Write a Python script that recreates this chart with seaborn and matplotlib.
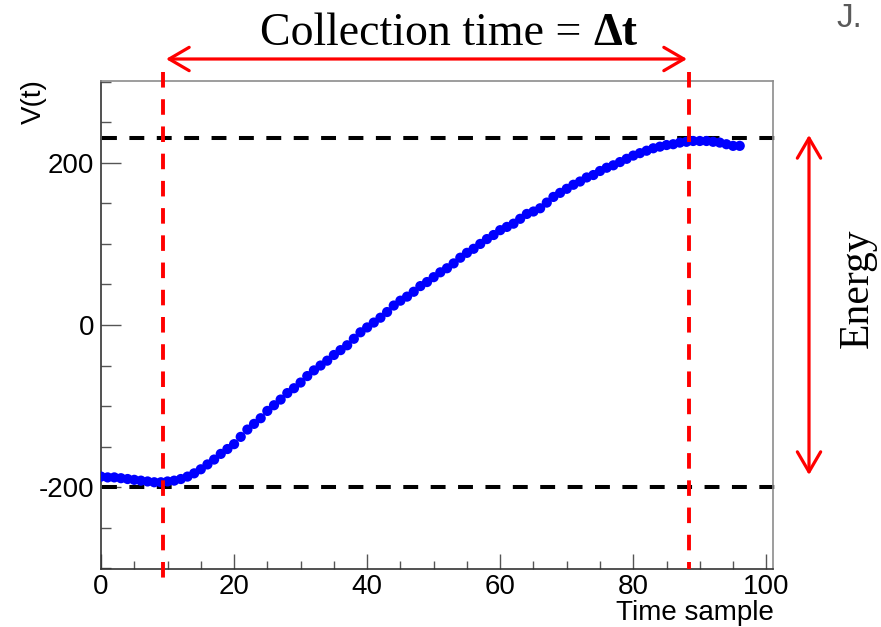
import numpy as np
import pandas as pd
import matplotlib
matplotlib.use("Agg")
import matplotlib.pyplot as plt
import seaborn as sns

# ---------------- data ----------------
time_sample = list(range(0, 97))
voltage = [
    -187, -188, -188, -189, -190, -191, -192, -193, -194, -194,
    -193, -192, -190, -187, -183, -178, -172, -166, -159, -153,
    -147, -138, -129, -122, -115, -106, -99, -92, -84, -78,
    -71, -63, -56, -50, -44, -37, -31, -25, -17, -9,
    -3, 3, 9, 16, 24, 30, 35, 41, 48, 53,
    59, 65, 70, 76, 83, 89, 94, 100, 106, 111,
    117, 121, 125, 131, 137, 140, 144, 151, 158, 163,
    168, 173, 177, 182, 185, 190, 194, 197, 201, 205,
    209, 212, 215, 218, 220, 222, 223, 225, 226, 227,
    227, 227, 226, 225, 223, 221, 221,
]
x_ticks = [0, 20, 40, 60, 80, 100]
y_ticks = [-200, 0, 200]
level_high = 231
level_low = -200
t_start = 9.3
t_end = 88.3
title_text = "Collection time ="
title_bold = "\u0394t"
energy_text = "Energy"
x_label = "Time sample"
y_label = "V(t)"
corner_text = "J."

df = pd.DataFrame({"t": time_sample, "v": voltage})

# ---------------- style ----------------
sns.set_style("white")
plt.rcParams["font.family"] = ["Liberation Sans", "DejaVu Sans"]
plt.rcParams["text.color"] = "black"
plt.rcParams["xtick.labelcolor"] = "black"
plt.rcParams["ytick.labelcolor"] = "black"

W, H = 881, 627
fig = plt.figure(figsize=(W / 100, H / 100), dpi=100)
ax = fig.add_axes([101 / W, 58 / H, 672 / W, 488 / H])

sns.scatterplot(data=df, x="t", y="v", ax=ax, color="#0000ff", s=54,
                edgecolor="none", linewidth=0, zorder=3, legend=False)

ax.set_xlim(0, 101)
ax.set_ylim(-301, 301)
ax.set_xticks(x_ticks)
ax.set_xticks(np.arange(0, 101, 5), minor=True)
ax.set_yticks(y_ticks)
ax.set_yticks(np.arange(-300, 301, 50), minor=True)
ax.set_xticklabels([str(v) for v in x_ticks])
ax.set_yticklabels([str(v) for v in y_ticks])
ax.set_xlabel("")
ax.set_ylabel("")

ax.tick_params(axis="x", which="major", direction="in", length=10.8, width=1.0,
               color="#555555", labelsize=20, pad=3.5, bottom=True, top=False,
               labelcolor="black")
ax.tick_params(axis="x", which="minor", direction="in", length=5.5, width=1.0,
               color="#555555", bottom=True, top=False)
ax.tick_params(axis="y", which="major", direction="in", length=14.4, width=1.0,
               color="#555555", labelsize=20, pad=5, left=True, right=False,
               labelcolor="black")
ax.tick_params(axis="y", which="minor", direction="in", length=7.5, width=1.0,
               color="#555555", left=True, right=False)

for side in ["left", "bottom"]:
    ax.spines[side].set_color("#333333")
    ax.spines[side].set_linewidth(1.2)
for side in ["top", "right"]:
    ax.spines[side].set_color("#8c8c8c")
    ax.spines[side].set_linewidth(1.2)

# ---------------- dashed guide lines ----------------
dash_black = (0, (3.7, 3.1))
ax.plot([0.2, 102.2], [level_high, level_high], color="black", lw=2.9,
        linestyle=dash_black, clip_on=False, zorder=2)
ax.plot([0.2, 102.5], [level_low, level_low], color="black", lw=2.9,
        linestyle=dash_black, clip_on=False, zorder=2)

dash_red = (0, (4.0, 3.0))
ax.plot([t_start, t_start], [312, -317], color="red", lw=2.8,
        linestyle=dash_red, clip_on=False, zorder=4)
ax.plot([t_end, t_end], [312, -301], color="red", lw=2.8,
        linestyle=dash_red, clip_on=False, zorder=4)

# ---------------- arrows (figure pixel coordinates) ----------------
def fp(x, y):
    return (x, H - y)

arrow_kw = dict(arrowstyle="<->,head_length=0.72,head_width=0.42",
                color="red", lw=2.3, mutation_scale=20, shrinkA=0, shrinkB=0)
ax.annotate("", xy=fp(166, 59), xytext=fp(687, 59), xycoords="figure pixels",
            textcoords="figure pixels", arrowprops=arrow_kw, annotation_clip=False)
ax.annotate("", xy=fp(809, 135), xytext=fp(809, 475), xycoords="figure pixels",
            textcoords="figure pixels", arrowprops=arrow_kw, annotation_clip=False)

# ---------------- texts ----------------
serif = ["Liberation Serif", "DejaVu Serif"]
fig.text(581 / W, 1 - 45 / H, title_text, family=serif, fontsize=33,
         color="black", ha="right", va="baseline")
fig.text(593 / W, 1 - 45 / H, title_bold, family=serif, fontsize=33,
         color="black", fontweight="bold", ha="left", va="baseline")
fig.text(857 / W, 1 - 288 / H, energy_text, family=serif, fontsize=30,
         color="black", rotation=90, ha="center", va="center")
fig.text(34 / W, 1 - 79 / H, y_label, fontsize=20, rotation=90,
         color="black", ha="center", va="top")
fig.text(774 / W, 1 - 620 / H, x_label, fontsize=20, ha="right",
         color="black", va="baseline")
fig.text(836 / W, 1 - 27 / H, corner_text, fontsize=24, color="#5a5a5a",
         ha="left", va="baseline")

fig.savefig("out.png", dpi=100)
